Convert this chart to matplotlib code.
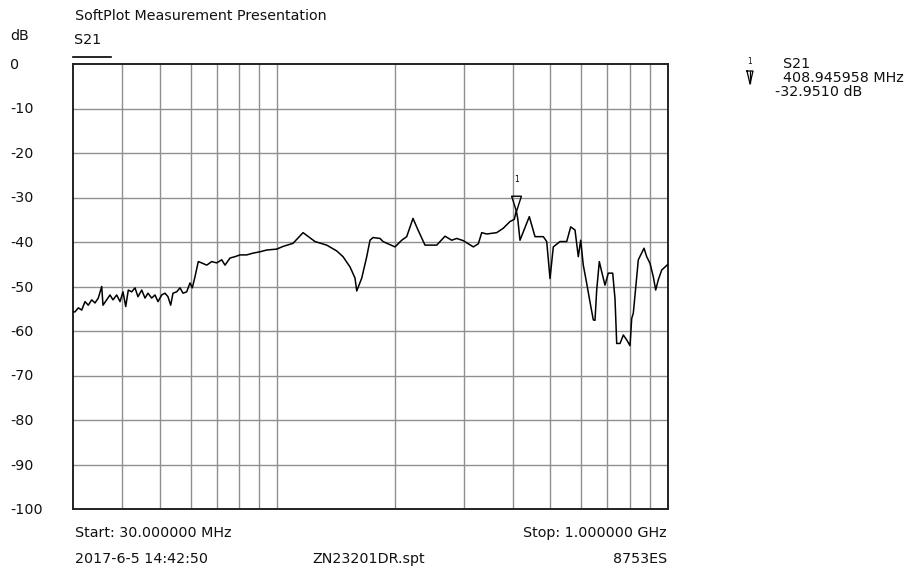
import numpy as np
import matplotlib
matplotlib.use("Agg")
import matplotlib.pyplot as plt
from matplotlib.path import Path
from matplotlib.lines import Line2D

plt.rcParams['font.family'] = ['DejaVu Sans']

# S21 trace (MHz, dB)
freq_mhz = [30.0, 30.36, 30.95, 31.58, 32.2, 32.83, 33.5, 34.15, 34.82, 35.53,
            35.8, 36.59, 37.31, 37.97, 38.81, 39.58, 40.28, 40.93, 41.56, 42.4,
            43.23, 44.0, 44.98, 45.86, 46.67, 47.7, 48.64, 49.51, 50.6, 51.59,
            52.51, 53.35, 54.08, 55.27, 56.36, 57.37, 58.63, 59.78, 60.6, 61.57,
            62.78, 64.05, 65.97, 67.94, 69.97, 72.07, 73.48, 75.68, 77.94, 80.27,
            83.5, 86.66, 90.31, 93.95, 99.65, 103.4, 109.7, 116.4, 124.9, 133.8,
            141.9, 147.3, 153.5, 158.1, 159.7, 164.5, 169.4, 172.7, 175.8, 183.2,
            186.5, 200.1, 208.2, 214.4, 222.5, 229.2, 238.8, 255.9, 268.7, 279.5,
            287.9, 299.3, 317.5, 327.0, 333.6, 343.6, 364.4, 378.9, 394.1, 404.3,
            408.946, 412.4, 418.0, 426.3, 441.6, 456.7, 479.6, 489.3, 498.9, 508.7,
            529.2, 550.5, 563.6, 578.1, 589.4, 597.8, 607.0, 619.3, 631.5, 643.9,
            650.4, 656.9, 667.1, 676.6, 689.9, 703.4, 721.9, 731.8, 739.1, 753.7,
            768.6, 784.0, 799.4, 807.4, 815.1, 834.6, 839.5, 868.2, 882.0, 899.4,
            917.0, 930.0, 944.4, 963.6, 1000.0]
s21_db = [-55.7, -55.7, -54.8, -55.3, -53.4, -54.2, -53.0, -53.7, -52.6, -50.0,
          -54.2, -53.0, -51.9, -53.0, -51.9, -53.4, -51.2, -54.5, -50.8, -51.2,
          -50.3, -52.3, -50.8, -52.6, -51.5, -52.6, -51.9, -53.4, -51.9, -51.5,
          -52.3, -54.2, -51.5, -51.2, -50.3, -51.5, -51.2, -49.2, -50.3, -47.8,
          -44.4, -44.7, -45.2, -44.4, -44.7, -44.0, -45.2, -43.6, -43.3, -42.9,
          -42.9, -42.5, -42.2, -41.8, -41.6, -41.0, -40.3, -37.9, -39.9, -40.7,
          -42.0, -43.3, -45.6, -48.1, -51.0, -48.1, -43.3, -39.6, -39.0, -39.2,
          -39.9, -41.1, -39.6, -38.8, -34.7, -37.3, -40.7, -40.7, -38.7, -39.6,
          -39.2, -39.7, -41.1, -40.4, -37.9, -38.2, -37.9, -36.9, -35.4, -34.9,
          -32.951, -34.7, -39.6, -37.7, -34.3, -38.8, -38.8, -39.9, -48.2, -41.1,
          -39.9, -39.9, -36.6, -37.3, -43.3, -39.6, -45.2, -49.3, -53.5, -57.5,
          -57.6, -50.8, -44.4, -46.7, -49.7, -47.0, -47.0, -52.8, -62.8, -62.8,
          -60.9, -62.0, -63.3, -57.2, -56.0, -46.3, -44.0, -41.4, -43.3, -44.8,
          -47.8, -50.8, -48.5, -46.3, -45.0]

marker_f = 408.945958
marker_db = -32.9510

grid_f = [40, 50, 60, 70, 80, 90, 100, 200, 300, 400, 500, 600, 700, 800, 900]
ytick_vals = list(range(0, -110, -10))

W, H = 918, 568
FS = 10.3
fig = plt.figure(figsize=(W / 100, H / 100), dpi=100)
ax = fig.add_axes([73 / W, 1 - 509 / H, (668 - 73) / W, (509 - 64) / H])

ax.set_xscale('log')
ax.set_xlim(30, 1000)
ax.set_ylim(-100, 0)
for g in grid_f:
    ax.axvline(g, color='#8f8f8f', lw=1.0, zorder=1)
for v in ytick_vals[1:-1]:
    ax.axhline(v, color='#8f8f8f', lw=1.0, zorder=1)
ax.set_xticks([])
ax.set_yticks([])
ax.minorticks_off()
for s in ax.spines.values():
    s.set_linewidth(1.4)
    s.set_color('#222222')

ax.plot(freq_mhz, s21_db, color='black', lw=1.1, zorder=3)

# marker: open triangle with its tip on the point
tri = Path([(-0.32, 1.0), (0.32, 1.0), (0.0, 0.0), (-0.32, 1.0)],
           [Path.MOVETO, Path.LINETO, Path.LINETO, Path.CLOSEPOLY])
ax.plot([marker_f], [marker_db], marker=tri, ms=22, mfc='none', mec='black',
        mew=1.0, zorder=4, clip_on=False)
ax.annotate('1', (marker_f, marker_db), xytext=(0, 19), textcoords='offset points',
            ha='center', va='bottom', fontsize=5.5)

def ftext(x, y, s, **kw):
    kw.setdefault('fontsize', FS)
    fig.text(x / W, 1 - y / H, s, va='center', color='#111111', **kw)

ftext(75, 16, 'SoftPlot Measurement Presentation')
ftext(10, 36, 'dB')
ftext(74, 40, 'S21')
fig.add_artist(Line2D([73 / W, 111 / W], [1 - 57 / H, 1 - 57 / H],
                      color='black', lw=1.2))
for v in ytick_vals:
    ftext(10, 65 + (-v) * 4.45, str(v))

ftext(75, 533, 'Start: 30.000000 MHz')
ftext(667, 533, 'Stop: 1.000000 GHz', ha='right')
ftext(75, 559, '2017-6-5 14:42:50')
ftext(312, 559, 'ZN23201DR.spt')
ftext(667, 559, '8753ES', ha='right')

ftext(750, 62, '1', fontsize=5.5, ha='center')
ftext(783, 64, 'S21')
ftext(783, 78, '408.945958 MHz')
ftext(775, 92, '-32.9510 dB')
fig.add_artist(Line2D([747 / W, 753 / W, 750 / W, 747 / W],
                      [1 - 71 / H, 1 - 71 / H, 1 - 84 / H, 1 - 71 / H],
                      color='black', lw=0.9))
fig.add_artist(Line2D([750 / W, 750 / W], [1 - 71 / H, 1 - 83 / H],
                      color='black', lw=0.9))

fig.savefig('out.png', dpi=100, facecolor='white')
